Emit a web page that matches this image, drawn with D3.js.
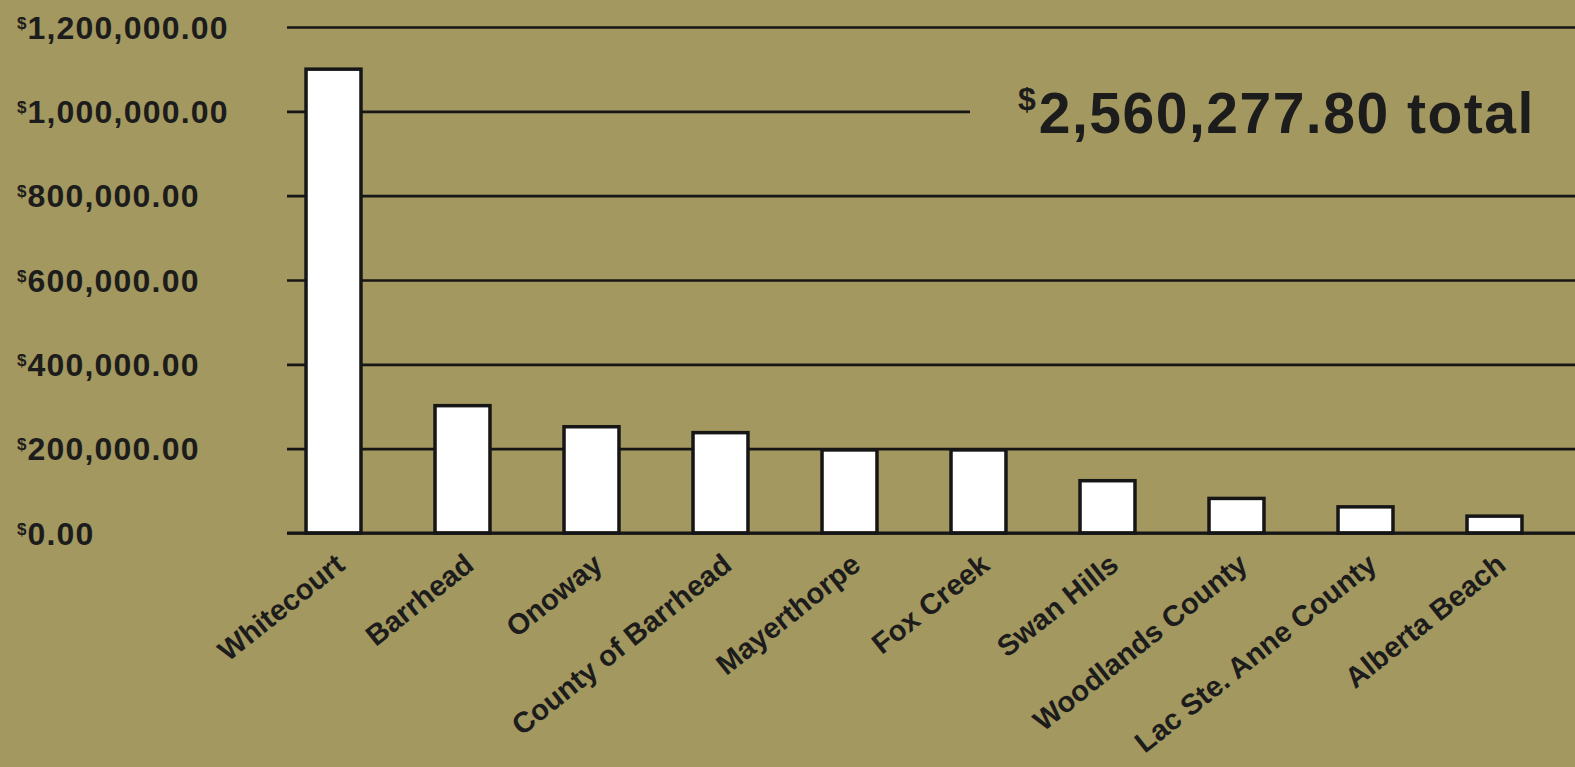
<!DOCTYPE html>
<html>
<head>
<meta charset="utf-8">
<script src="https://cdn.jsdelivr.net/npm/d3@7"></script>
<style>
  html, body { margin: 0; padding: 0; background: #a3985f; }
  svg { display: block; font-family: "Liberation Sans", Arial, sans-serif; font-weight: bold; }
</style>
</head>
<body>
<div id="chart"></div>
<script>
// chart data
var places = ["Whitecourt", "Barrhead", "Onoway", "County of Barrhead", "Mayerthorpe",
  "Fox Creek", "Swan Hills", "Woodlands County", "Lac Ste. Anne County", "Alberta Beach"];
var amounts = [1100000, 302000, 252000, 238000, 197000, 197000, 124000, 82000, 62000, 40000];
var yTicks = [0, 200000, 400000, 600000, 800000, 1000000, 1200000];
var totalLabel = "2,560,277.80 total";

var svgWidth = 1575;
var svgHeight = 767;

var svg = d3.select("#chart")
  .append("svg")
  .attr("width", svgWidth)
  .attr("height", svgHeight);

svg.append("rect")
  .attr("width", svgWidth)
  .attr("height", svgHeight)
  .attr("fill", "#a3985f");

var gridLeft = 287;

// scales
var x = d3.scaleBand()
  .domain(places)
  .range([269, 1559])
  .paddingInner(0.574)
  .paddingOuter(0.287);

var y = d3.scaleLinear()
  .domain([0, 1200000])
  .range([533, 27]);

var money = d3.format(",.2f");

// y axis with gridlines
var yAxis = d3.axisLeft(y)
  .tickValues(yTicks)
  .tickSize(-(svgWidth - gridLeft))
  .tickFormat(d => money(d));

var yG = svg.append("g")
  .attr("transform", `translate(${gridLeft},0)`)
  .call(yAxis);

yG.select(".domain").remove();
yG.selectAll(".tick line")
  .attr("stroke", "#161616")
  .attr("stroke-width", 2.6);

// labels: small raised $ then the amount
yG.selectAll(".tick text")
  .attr("x", 17 - gridLeft)
  .attr("dy", null)
  .attr("text-anchor", "start")
  .attr("fill", "#1c1c1c")
  .style("font-size", "32px")
  .style("letter-spacing", "1.2px")
  .each(function (d) {
    var t = d3.select(this);
    t.text(null);
    t.append("tspan").text("$").style("font-size", "17px").style("letter-spacing", "0px").attr("y", 1);
    t.append("tspan").text(money(d)).attr("y", 11).attr("dx", "1");
  });

// bars
svg.append("g")
  .selectAll("rect")
  .data(amounts)
  .enter()
  .append("rect")
  .attr("x", (d, i) => x(places[i]))
  .attr("y", d => y(d))
  .attr("width", x.bandwidth())
  .attr("height", d => y(0) - y(d))
  .attr("fill", "#ffffff")
  .attr("stroke", "#161616")
  .attr("stroke-width", 3.5);

// baseline drawn over bars
svg.append("line")
  .attr("x1", gridLeft)
  .attr("x2", svgWidth)
  .attr("y1", y(0))
  .attr("y2", y(0))
  .attr("stroke", "#161616")
  .attr("stroke-width", 3);

// x labels
svg.append("g")
  .selectAll("text")
  .data(places)
  .enter()
  .append("text")
  .attr("transform", d => `translate(${x(d) + x.bandwidth() / 2 + 13}, 568) rotate(-38.5)`)
  .attr("text-anchor", "end")
  .attr("fill", "#1c1c1c")
  .style("font-size", "29px")
  .text(d => d);

// total label, covering the gridline behind it
svg.append("rect")
  .attr("x", 970)
  .attr("y", 95)
  .attr("width", svgWidth - 970)
  .attr("height", 40)
  .attr("fill", "#a3985f");

var total = svg.append("text")
  .attr("x", 1018)
  .attr("fill", "#1c1c1c")
  .style("font-size", "57px")
  .style("letter-spacing", "1.5px");
total.append("tspan").text("$").style("font-size", "32px").style("letter-spacing", "0px").attr("y", 110);
total.append("tspan").text(totalLabel).attr("y", 133).attr("dx", "3");
</script>
</body>
</html>
